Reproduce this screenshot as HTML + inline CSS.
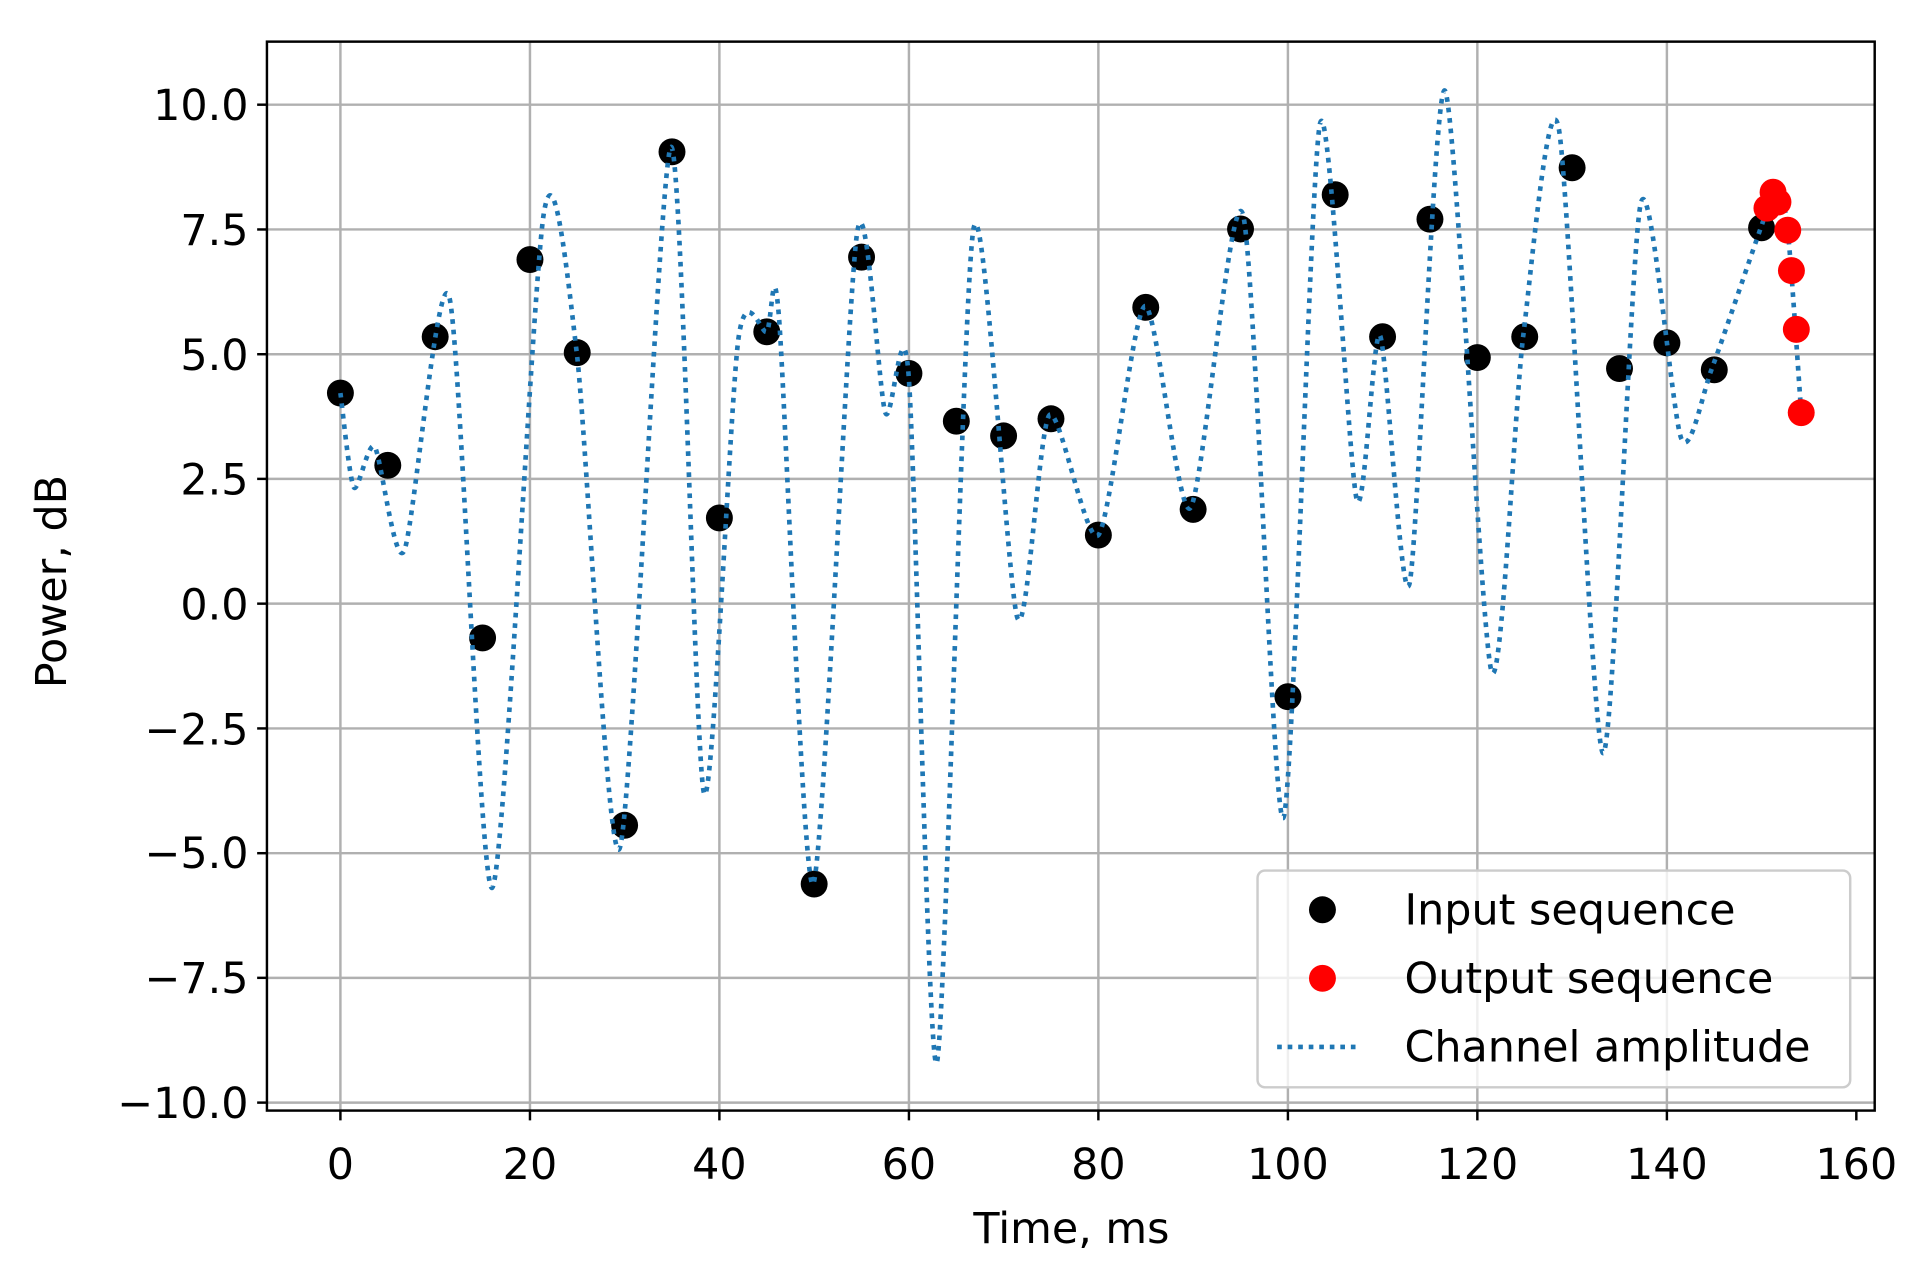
<!DOCTYPE html>
<html><head><meta charset="utf-8"><style>
html,body{margin:0;padding:0;background:#fff;}
svg{display:block;}
text{font-family:"DejaVu Sans","Liberation Sans",sans-serif;fill:#000;}
</style></head><body>
<svg width="1920" height="1270" viewBox="0 0 1568 1037.2" preserveAspectRatio="none" xmlns="http://www.w3.org/2000/svg">
<rect x="0" y="0" width="1568" height="1040" fill="#fff"/>
<g stroke="#b0b0b0" stroke-width="2">
<line x1="278" y1="34" x2="278" y2="907"/><line x1="432.8" y1="34" x2="432.8" y2="907"/><line x1="587.5" y1="34" x2="587.5" y2="907"/><line x1="742.3" y1="34" x2="742.3" y2="907"/><line x1="897" y1="34" x2="897" y2="907"/><line x1="1051.8" y1="34" x2="1051.8" y2="907"/><line x1="1206.5" y1="34" x2="1206.5" y2="907"/><line x1="1361.3" y1="34" x2="1361.3" y2="907"/>
<line x1="218" y1="85.5" x2="1531" y2="85.5"/><line x1="218" y1="187.4" x2="1531" y2="187.4"/><line x1="218" y1="289.3" x2="1531" y2="289.3"/><line x1="218" y1="391.1" x2="1531" y2="391.1"/><line x1="218" y1="493" x2="1531" y2="493"/><line x1="218" y1="594.9" x2="1531" y2="594.9"/><line x1="218" y1="696.8" x2="1531" y2="696.8"/><line x1="218" y1="798.6" x2="1531" y2="798.6"/><line x1="218" y1="900.5" x2="1531" y2="900.5"/>
</g>
<g fill="#000">
<circle cx="278" cy="321" r="11"/><circle cx="316.7" cy="380" r="11"/><circle cx="355.4" cy="275" r="11"/><circle cx="394.1" cy="521" r="11"/><circle cx="432.8" cy="212" r="11"/><circle cx="471.4" cy="288" r="11"/><circle cx="510.1" cy="674" r="11"/><circle cx="548.8" cy="124" r="11"/><circle cx="587.5" cy="423" r="11"/><circle cx="626.2" cy="271" r="11"/><circle cx="664.9" cy="722" r="11"/><circle cx="703.6" cy="210" r="11"/><circle cx="742.3" cy="305" r="11"/><circle cx="781" cy="344" r="11"/><circle cx="819.6" cy="356" r="11"/><circle cx="858.3" cy="342" r="11"/><circle cx="897" cy="437" r="11"/><circle cx="935.7" cy="251" r="11"/><circle cx="974.4" cy="416" r="11"/><circle cx="1013.1" cy="187" r="11"/><circle cx="1051.8" cy="569" r="11"/><circle cx="1090.4" cy="159" r="11"/><circle cx="1129.1" cy="275" r="11"/><circle cx="1167.8" cy="179" r="11"/><circle cx="1206.5" cy="292" r="11"/><circle cx="1245.2" cy="275" r="11"/><circle cx="1283.9" cy="137" r="11"/><circle cx="1322.6" cy="301" r="11"/><circle cx="1361.3" cy="280" r="11"/><circle cx="1400" cy="302" r="11"/><circle cx="1438.6" cy="186" r="11"/>
</g>
<path id="curve" fill="none" stroke="#1f77b4" stroke-width="3.8" stroke-dasharray="3.8 4.8" d="M278,321 L289,398 L306,365 L330,450 L367,243 L402,725 L444,175 L471,288 L506,693 L548,120 L575,648 L603,277 L626,271 L636,257 L664,722 L700,190 L723,337 L742,306 L765,868 L795,187 L831,505 L857,339 L897,437 L935,250 L972,415 L1015,175 L1048,668 L1078,101 L1108,408 L1127,274 L1151,477 L1180,74 L1218,548 L1244,274 L1273,105 L1309,615 L1340,166 L1373,358 L1398,301 L1438,186 L1451,153 L1460,188 L1471,337"/>
<g fill="#ff0000">
<circle cx="1443" cy="170" r="11"/><circle cx="1448" cy="157" r="11"/><circle cx="1452" cy="165" r="11"/><circle cx="1460" cy="188" r="11"/><circle cx="1463" cy="221" r="11"/><circle cx="1467" cy="269" r="11"/><circle cx="1471" cy="337" r="11"/>
</g>
<rect x="218" y="34" width="1313" height="873" fill="none" stroke="#000" stroke-width="2"/>
<g stroke="#000" stroke-width="2">
<line x1="278" y1="907" x2="278" y2="915"/><line x1="432.8" y1="907" x2="432.8" y2="915"/><line x1="587.5" y1="907" x2="587.5" y2="915"/><line x1="742.3" y1="907" x2="742.3" y2="915"/><line x1="897" y1="907" x2="897" y2="915"/><line x1="1051.8" y1="907" x2="1051.8" y2="915"/><line x1="1206.5" y1="907" x2="1206.5" y2="915"/><line x1="1361.3" y1="907" x2="1361.3" y2="915"/><line x1="1516" y1="907" x2="1516" y2="915"/>
<line x1="210" y1="85.5" x2="218" y2="85.5"/><line x1="210" y1="187.4" x2="218" y2="187.4"/><line x1="210" y1="289.3" x2="218" y2="289.3"/><line x1="210" y1="391.1" x2="218" y2="391.1"/><line x1="210" y1="493" x2="218" y2="493"/><line x1="210" y1="594.9" x2="218" y2="594.9"/><line x1="210" y1="696.8" x2="218" y2="696.8"/><line x1="210" y1="798.6" x2="218" y2="798.6"/><line x1="210" y1="900.5" x2="218" y2="900.5"/>
</g>
<g font-size="35" text-anchor="end">
<text x="203" y="98">10.0</text><text x="203" y="200">7.5</text><text x="203" y="302">5.0</text><text x="203" y="404">2.5</text><text x="203" y="506">0.0</text><text x="203" y="608">−2.5</text><text x="203" y="709">−5.0</text><text x="203" y="811">−7.5</text><text x="203" y="913">−10.0</text>
</g>
<g font-size="35" text-anchor="middle">
<text x="278" y="963">0</text><text x="432.8" y="963">20</text><text x="587.5" y="963">40</text><text x="742.3" y="963">60</text><text x="897" y="963">80</text><text x="1051.8" y="963">100</text><text x="1206.5" y="963">120</text><text x="1361.3" y="963">140</text><text x="1516" y="963">160</text>
<text x="875" y="1015">Time, ms</text>
<text transform="translate(54,475) rotate(-90)">Power, dB</text>
</g>
<rect x="1027" y="711" width="484" height="177" rx="6" fill="#fff" fill-opacity="0.8" stroke="#cccccc" stroke-width="2"/>
<circle cx="1080" cy="743" r="11" fill="#000"/>
<circle cx="1080" cy="799" r="11" fill="#f00"/>
<line x1="1043" y1="855" x2="1108" y2="855" stroke="#1f77b4" stroke-width="3.8" stroke-dasharray="3.8 4.8"/>
<g font-size="35"><text x="1147" y="755">Input sequence</text><text x="1147" y="811">Output sequence</text><text x="1147" y="867">Channel amplitude</text></g>
</svg>
<script>
(function(){
var d=document.getElementById('curve').getAttribute('d');
var pts=d.replace(/[ML]/g,' ').trim().split(/\s+/).map(function(s){return s.split(',').map(Number);});
var o='M'+pts[0][0]+','+pts[0][1];
for(var i=0;i<pts.length-1;i++){
var p0=pts[i-1]||pts[i],p1=pts[i],p2=pts[i+1],p3=pts[i+2]||p2;
var c1x=p1[0]+(p2[0]-p0[0])/8,c1y=p1[1]+(p2[1]-p0[1])/8;
var c2x=p2[0]-(p3[0]-p1[0])/8,c2y=p2[1]-(p3[1]-p1[1])/8;
o+=' C'+c1x.toFixed(1)+','+c1y.toFixed(1)+' '+c2x.toFixed(1)+','+c2y.toFixed(1)+' '+p2[0]+','+p2[1];
}
document.getElementById('curve').setAttribute('d',o);
})();
</script>
</body></html>
